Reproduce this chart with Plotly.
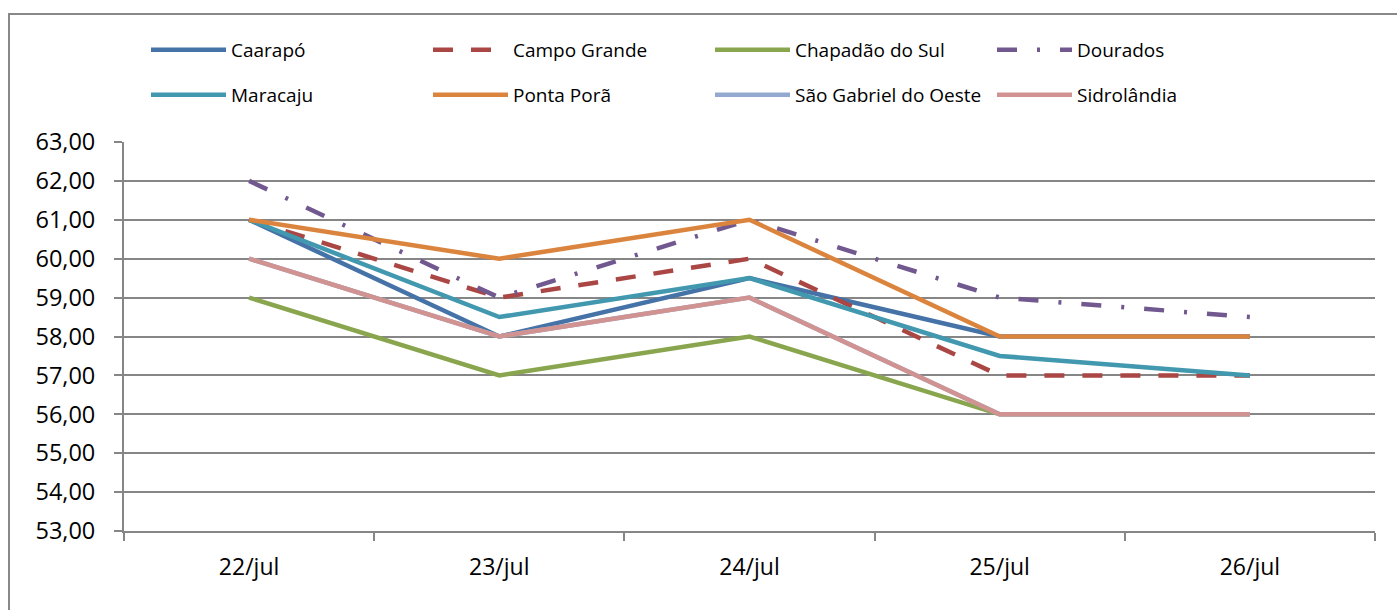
import plotly.graph_objects as go

dates = ["22/jul", "23/jul", "24/jul", "25/jul", "26/jul"]
caarapo = [61.0, 58.0, 59.5, 58.0, 58.0]
campo_grande = [61.0, 59.0, 60.0, 57.0, 57.0]
chapadao = [59.0, 57.0, 58.0, 56.0, 56.0]
dourados = [62.0, 59.0, 61.0, 59.0, 58.5]
maracaju = [61.0, 58.5, 59.5, 57.5, 57.0]
ponta_pora = [61.0, 60.0, 61.0, 58.0, 58.0]
sao_gabriel = [60.0, 58.0, 59.0, 56.0, 56.0]
sidrolandia = [60.0, 58.0, 59.0, 56.0, 56.0]

series = [
    ("Caarapó", caarapo, "#4572A7", "solid", "legend"),
    ("Campo Grande", campo_grande, "#AA4643", "20px,18px", "legend"),
    ("Chapadão do Sul", chapadao, "#89A54E", "solid", "legend"),
    ("Dourados", dourados, "#71588F", "20px,20px,3px,20px", "legend"),
    ("Maracaju", maracaju, "#4198AF", "solid", "legend2"),
    ("Ponta Porã", ponta_pora, "#DB843D", "solid", "legend2"),
    ("São Gabriel do Oeste", sao_gabriel, "#93A9CF", "solid", "legend2"),
    ("Sidrolândia", sidrolandia, "#D19392", "solid", "legend2"),
]

fig = go.Figure()
for name, vals, color, dash, lg in series:
    fig.add_trace(go.Scatter(
        x=dates, y=vals, name=name, mode="lines",
        line=dict(color=color, width=4.5, dash=dash),
        legend=lg,
    ))

W, H = 1397, 610
L, R, T, B = 124, 22, 142, 79
pw = W - L - R
ph = H - T - B

def px(xp):
    return (xp - L) / pw

def py(yp):
    return (H - B - yp) / ph

grid = "#868686"
legfont = dict(family="Open Sans", size=19, color="#000000")
legcommon = dict(orientation="h", xanchor="left", yanchor="middle",
                 entrywidth=192, entrywidthmode="pixels", itemwidth=75,
                 font=legfont, bgcolor="rgba(0,0,0,0)", borderwidth=0,
                 traceorder="normal")

fig.update_layout(
    width=W, height=H,
    margin=dict(l=L, r=R, t=T, b=B),
    paper_bgcolor="white", plot_bgcolor="white",
    separators=",.",
    font=dict(family="Open Sans", color="#000000"),
    legend=dict(x=px(146), y=py(50), **legcommon),
    legend2=dict(x=px(146), y=py(95), **legcommon),
    xaxis=dict(
        type="category", range=[-0.5, 4.5], tickson="boundaries",
        ticks="outside", ticklen=8, tickwidth=1.5, tickcolor=grid,
        showline=True, linecolor=grid, linewidth=2,
        showgrid=False, zeroline=False,
        tickfont=dict(family="Open Sans", size=23, color="#000000"),
        ticklabelstandoff=14,
    ),
    yaxis=dict(
        range=[53, 63], dtick=1, tick0=53, tickformat=".2f",
        ticks="outside", ticklen=8, tickwidth=1.5, tickcolor=grid,
        showline=True, linecolor=grid, linewidth=2,
        showgrid=True, gridcolor=grid, gridwidth=1.5, zeroline=False,
        tickfont=dict(family="Open Sans", size=23.5, color="#000000"),
        ticklabelstandoff=14,
    ),
    shapes=[dict(
        type="rect", xref="paper", yref="paper",
        x0=px(9), x1=px(1420), y0=py(640), y1=py(14),
        line=dict(color="#888888", width=2), fillcolor="rgba(0,0,0,0)",
        layer="below",
    )],
)

fig.write_html(
    "out.html",
    config={"displayModeBar": False},
    post_script="document.body.style.margin='0';document.body.style.overflow='hidden';",
)
